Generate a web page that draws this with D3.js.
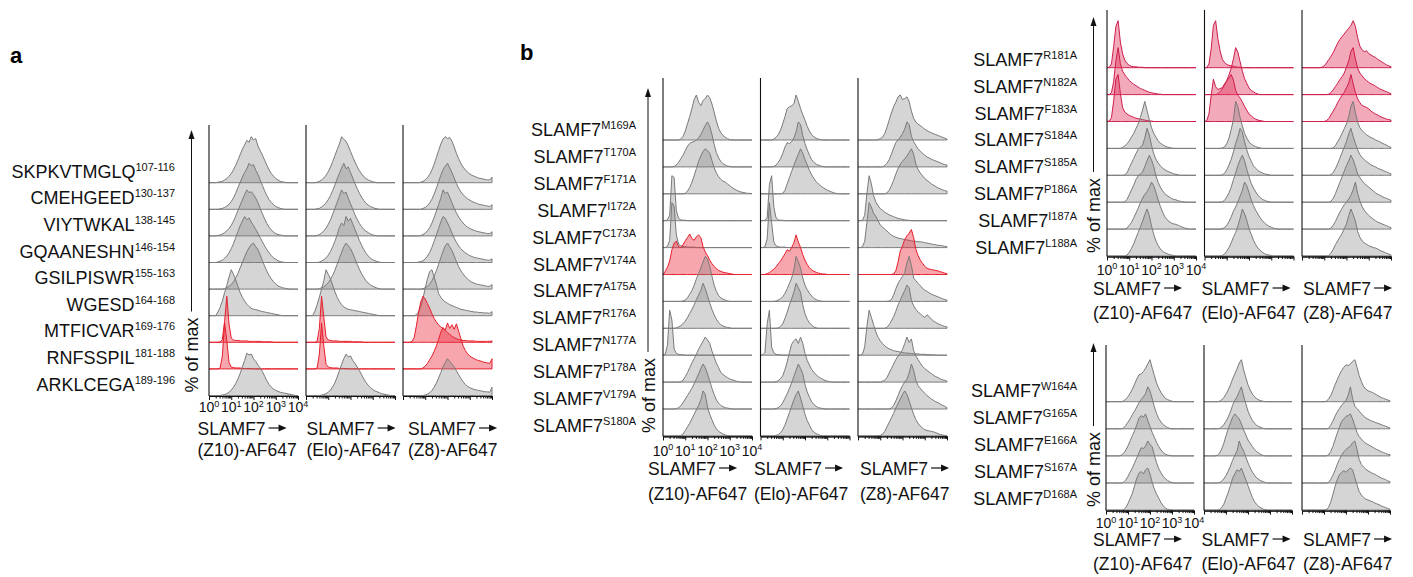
<!DOCTYPE html>
<html>
<head>
<meta charset="utf-8">
<title>SLAMF7 epitope mapping histograms</title>
<script src="https://d3js.org/d3.v7.min.js"></script>
<style>
  body { margin: 0; background: #fff; }
  svg { font-family: "Liberation Sans", Arial, sans-serif; }
</style>
</head>
<body>
<svg id="chart" width="1413" height="577"></svg>
<script>
// ---- data: histogram heights (% of max), one value per 0.1 decade from 10^0 to 10^4 (trailing zeros left out) ----
var colTitles = ["(Z10)-AF647", "(Elo)-AF647", "(Z8)-AF647"];
var tickExps = ["0", "1", "2", "3", "4"];

var rowsA = [["SKPKVTMGLQ","107-116"],["CMEHGEED","130-137"],["VIYTWKAL","138-145"],["GQAANESHN","146-154"],
  ["GSILPISWR","155-163"],["WGESD","164-168"],["MTFICVAR","169-176"],["RNFSSPIL","181-188"],["ARKLCEGA","189-196"]];
var rowsBL = ["M169A","T170A","F171A","I172A","C173A","V174A","A175A","R176A","N177A","P178A","V179A","S180A"];
var rowsBRT = ["R181A","N182A","F183A","S184A","S185A","P186A","I187A","L188A"];
var rowsBRB = ["W164A","G165A","E166A","S167A","D168A"];

var aZ10 = [
  [0,0,0,0,1,2,3,6,9,14,20,28,38,49,61,73,82,92,88,100,93,96,80,70,60,49,38,28,20,14,9,6,3,2,1],
  [0,0,0,0,0,1,2,4,7,11,17,25,35,47,58,70,80,88,100,95,97,85,76,64,52,40,30,21,15,10,6,4,2,1],
  [0,0,0,0,1,2,4,7,11,16,23,32,43,55,67,78,90,100,94,96,90,82,72,60,48,37,27,19,13,8,5,3,2,1],
  [0,0,0,0,1,3,5,9,14,21,30,41,54,67,80,90,100,93,97,88,80,72,63,54,45,36,28,21,15,10,7,4,2,1],
  [0,0,0,0,0,0,0,1,3,6,10,16,24,34,46,58,70,81,90,97,100,92,86,74,62,50,39,30,22,16,11,7,5,3,2,1],
  [0,0,0,0,8,18,32,50,66,84,100,90,78,64,50,40,32,25,20,16,14,13,12,10,9,8,7,6,5,4,3,2,1],
  [0,0,0,0,0,1,6,45,100,40,9,5,4,4,3,3,3,3,2,2,2,2,2,2,1,1,1,1,1],
  [0,0,0,0,0,2,28,100,62,14,4,3,2,2,2,1,1,1,1,1],
  [0,0,0,0,0,0,1,2,4,7,12,18,26,36,48,62,76,92,88,90,80,74,66,60,52,42,32,24,18,14,11,9,7,6,5,4,3,2,1]
];
var aElo = [
  [0,0,0,0,0,1,3,6,10,16,24,34,46,59,72,84,100,94,90,80,68,56,45,35,26,19,13,9,6,4,2,1],
  [0,0,0,0,0,1,2,5,9,14,21,30,41,53,66,78,90,100,88,92,80,68,56,45,35,26,19,13,9,6,4,2,1],
  [0,0,0,0,0,1,3,6,11,17,25,35,47,60,73,86,100,92,95,82,70,58,46,36,27,20,14,10,7,4,2,1],
  [0,0,0,0,0,0,1,3,6,10,16,24,34,46,60,76,86,80,100,90,96,84,72,60,48,37,28,20,14,9,6,4,2,1],
  [0,0,0,0,0,0,1,3,5,9,14,21,30,41,54,67,80,92,100,94,88,78,66,54,43,33,25,18,13,9,6,4,2,1],
  [0,0,0,0,10,24,40,58,76,100,90,80,66,52,40,31,24,19,16,14,13,12,11,10,9,8,7,6,5,4,3,2,1],
  [0,0,0,0,0,2,30,100,55,12,5,4,3,3,3,2,2,2,2,2,2,1,1,1,1,1],
  [0,0,0,0,0,2,32,100,50,10,4,3,2,2,2,1,1,1,1],
  [0,0,0,0,0,0,0,1,2,4,7,12,19,28,40,54,68,80,90,84,86,76,70,62,54,45,36,28,22,17,13,10,8,6,4,3,2,1]
];
var aZ8 = [
  [0,0,0,0,0,0,0,0,1,3,6,11,18,28,40,55,70,84,95,100,96,98,90,78,64,52,42,34,28,23,19,16,14,12,10,9,8,7,6,6,12],
  [0,0,0,0,0,0,0,0,0,2,4,8,14,22,33,46,60,74,86,94,100,90,80,68,56,46,38,32,27,23,20,17,15,13,11,10,9,8,7,6,10],
  [0,0,0,0,0,0,0,0,1,3,6,11,18,28,40,54,68,82,100,92,95,84,72,60,50,41,34,28,23,19,16,14,12,10,9,8,7,6,5,5,9],
  [0,0,0,0,0,0,0,1,2,4,8,14,22,33,46,60,74,88,100,96,86,76,64,53,44,36,30,25,21,18,15,13,11,10,9,8,7,6,5,5,8],
  [0,0,0,0,0,0,0,0,0,1,3,6,11,18,28,40,54,68,82,94,100,92,84,72,60,49,40,33,27,22,18,15,13,11,10,9,8,7,6,6,10],
  [0,0,0,0,0,0,2,8,20,38,60,80,96,100,84,68,48,40,34,30,27,24,22,20,18,16,14,13,12,11,10,9,8,8,7,7,6,6,6,5,9],
  [0,0,0,0,2,10,35,65,88,100,94,84,74,62,52,44,38,33,30,26,21,17,13,10,8,6,5,4,4,3,3,3,3,2,2,2,2,2,2,2,3],
  [0,0,0,0,0,0,0,0,0,2,6,12,20,28,38,50,64,80,90,84,100,88,96,86,98,82,66,50,40,33,28,25,22,20,18,17,15,14,13,12,22],
  [0,0,0,0,0,0,0,0,0,0,1,3,6,11,18,27,38,50,62,72,80,74,68,62,54,45,37,30,24,20,17,15,13,12,11,10,9,8,8,7,18]
];

var blZ10 = [
  [0,0,0,0,0,0,0,0,2,8,20,36,52,70,90,100,84,76,88,92,100,94,80,62,42,26,16,10,6,3,1],
  [0,0,0,0,0,1,4,10,18,26,36,46,52,55,56,60,64,72,82,92,100,90,72,50,32,20,12,7,4,2,1],
  [0,0,0,0,0,0,0,0,0,0,1,6,14,26,40,56,72,84,94,100,96,90,74,58,46,38,32,28,26,22,18,14,11,8,6,4,3,2,1,1],
  [0,0,2,12,100,96,22,5,2,1,1],
  [0,0,3,16,100,92,28,8,4,2,2,1,1,1,1],
  [0,7,16,30,55,70,74,62,60,66,75,82,90,80,76,84,88,82,62,50,42,32,24,18,13,9,7,5,4,3,2,1],
  [0,0,0,0,0,0,0,0,0,1,3,8,16,24,36,50,62,74,88,100,94,78,56,36,22,13,8,5,3,1],
  [0,0,0,0,0,0,1,3,6,10,16,24,33,42,52,64,74,84,100,88,72,56,42,30,20,13,8,5,3,2,1],
  [0,2,22,100,78,14,4,2,1,1],
  [0,0,0,0,0,0,0,0,1,4,12,21,32,43,52,62,73,82,91,100,94,86,69,55,42,32,21,17,13,10,7,5,4,2,1],
  [0,0,0,0,0,0,1,3,7,14,22,30,38,46,56,67,78,90,100,92,78,62,46,32,20,13,8,5,3,2,1],
  [0,0,0,0,0,0,0,0,1,4,12,20,28,38,48,58,68,80,100,92,64,48,36,24,16,10,7,4,2,1]
];
var blElo = [
  [0,0,0,0,0,0,2,6,12,22,36,52,70,74,76,80,100,86,70,56,44,30,20,12,7,4,2,1],
  [0,0,0,0,0,0,1,4,10,18,30,44,54,52,56,64,78,100,94,70,52,38,26,16,10,6,4,2,1],
  [0,0,0,0,0,0,0,0,0,0,1,8,22,36,50,63,76,88,100,90,76,64,52,42,34,27,22,18,14,11,8,6,4,2,1],
  [0,0,1,6,80,100,30,6,2,1,1],
  [0,0,2,20,100,55,12,4,2,1,1,1],
  [0,0,0,2,4,8,12,17,24,30,38,46,55,52,60,70,88,72,60,44,32,22,15,10,7,5,3,2,1,1],
  [0,0,0,0,0,0,0,1,3,6,10,18,28,40,52,70,100,88,74,52,36,26,18,12,7,4,2,1],
  [0,0,0,0,0,0,0,0,1,4,10,22,36,52,66,80,100,90,80,52,32,20,12,7,3,1],
  [0,1,6,70,100,18,5,2,1,1],
  [0,0,0,0,0,0,0,1,3,8,14,28,45,66,84,92,96,86,100,86,64,48,38,28,22,16,12,9,6,4,2,1],
  [0,0,0,0,0,0,0,1,3,7,14,24,34,46,58,72,86,100,90,78,54,38,26,16,10,6,3,2,1],
  [0,0,0,0,0,0,0,1,3,7,14,24,38,52,66,80,92,100,84,66,48,34,24,14,8,5,3,1]
];
var blZ8 = [
  [0,0,0,0,0,0,0,0,0,1,3,6,14,28,44,60,74,84,96,100,90,92,96,85,64,48,40,35,32,28,24,21,18,16,14,12,10,8,6,4,2],
  [0,0,0,0,0,0,0,0,0,0,0,0,3,8,16,28,42,54,60,66,74,84,100,94,68,56,48,40,35,30,26,22,20,17,15,13,11,9,7,5,4],
  [0,0,0,0,0,0,0,0,0,0,0,0,0,2,8,18,30,44,56,66,72,78,84,92,100,88,66,54,46,40,34,30,26,22,19,16,13,11,9,7,6],
  [0,0,1,12,60,100,82,56,42,33,27,23,19,16,13,11,9,7,5,4,3,2,1,1],
  [0,0,2,14,55,100,90,76,70,60,50,46,41,37,32,28,25,23,21,20,19,18,17,16,15,14,14,13,13,12,11,10,9,8,7,6,5,5,4,3,2],
  [0,0,0,0,0,0,0,0,0,0,0,0,0,0,0,0,2,8,28,52,64,78,86,92,100,82,56,42,32,25,18,14,12,11,10,9,8,6,5,3,2],
  [0,0,0,0,0,0,0,0,0,0,0,0,0,0,1,4,14,28,40,48,56,64,86,100,80,52,46,40,35,29,25,22,19,16,14,12,10,8,6,4,3],
  [0,0,0,0,0,0,0,0,0,0,0,0,0,2,8,16,26,38,52,62,74,84,96,90,62,50,42,36,32,28,24,30,26,20,16,13,10,8,6,4,3],
  [0,0,2,18,64,100,84,68,52,40,32,26,21,17,14,12,10,9,8,7,6,5,5,4,4,3,3,3,2,2,2,1,1,1,1],
  [0,0,0,0,0,0,0,0,0,0,0,2,4,10,20,30,40,50,58,64,72,86,100,88,96,70,58,50,42,35,30,26,22,19,15,12,10,7,5,4,2],
  [0,0,0,0,0,0,0,0,0,0,0,0,0,0,0,2,8,18,30,42,52,60,66,80,100,86,64,52,46,40,35,30,26,22,19,16,14,11,8,6,3],
  [0,0,0,0,0,0,0,0,0,0,1,4,10,20,30,40,50,62,72,82,92,100,92,78,62,48,36,28,22,17,14,12,11,10,9,7,5,3,2,1]
];

var brtZ10 = [
  [0,1,8,45,88,100,55,30,16,9,5,3,2,2,1,1,1],
  [0,0,4,28,72,100,66,50,42,36,30,26,22,19,16,13,11,9,7,5,4,3,2,1,1],
  [0,1,8,44,90,100,60,30,20,16,13,11,9,7,6,5,4,3,2,1,1],
  [0,0,0,0,0,0,0,2,5,10,16,24,32,42,52,66,82,100,80,62,44,32,24,16,11,8,5,3,2,1],
  [0,0,0,0,0,0,0,0,1,5,16,26,36,46,55,60,64,80,100,86,64,46,34,26,20,15,12,9,7,5,3,2,1],
  [0,0,0,0,0,0,0,0,1,6,16,26,36,48,56,60,64,76,88,100,90,76,56,42,32,24,18,14,11,8,6,5,3,2,1],
  [0,0,0,0,0,0,0,0,0,2,8,14,24,34,44,56,66,74,80,88,100,92,78,62,48,36,26,20,16,13,11,10,8,6,4,2,1],
  [0,0,0,0,0,0,0,0,0,2,8,16,26,38,50,62,74,88,100,86,64,46,32,22,15,10,7,5,3,2,1]
];
var brtElo = [
  [0,0,8,40,90,100,62,36,18,11,7,5,4,3,2,1,1],
  [0,0,0,0,0,0,2,6,12,20,30,42,56,76,100,90,70,50,34,24,14,9,6,3,1],
  [0,2,16,55,90,74,68,70,72,80,86,92,100,88,66,56,50,42,32,24,16,12,8,5,3,2,1],
  [0,0,0,0,0,0,0,0,1,3,10,22,40,62,100,88,66,48,32,22,14,9,6,4,2,1],
  [0,0,0,0,0,0,0,0,1,4,12,22,34,50,68,82,100,92,72,54,40,30,20,15,10,7,5,3,2,1],
  [0,0,0,0,0,0,0,0,1,4,11,20,32,48,62,78,90,100,88,70,54,40,30,22,15,10,6,4,2,1],
  [0,0,0,0,0,0,0,0,1,3,8,16,26,38,47,58,70,82,100,92,78,62,50,40,32,24,18,13,9,6,4,2,1],
  [0,0,0,0,0,0,0,0,1,4,10,18,28,40,50,64,80,100,90,76,58,46,34,24,17,12,8,5,3,2,1]
];
var brtZ8 = [
  [0,0,0,0,0,0,0,0,0,1,4,10,17,24,32,42,52,60,66,72,78,84,90,100,88,64,46,38,34,36,30,27,24,22,18,15,12,9,6,4,2],
  [0,0,0,0,0,0,0,0,0,0,0,0,1,4,10,17,24,32,38,46,58,72,92,100,76,56,46,40,34,30,26,23,21,18,15,12,10,8,6,4,2],
  [0,0,0,0,0,0,0,0,0,0,0,2,6,14,22,30,40,48,56,62,72,82,100,80,62,48,40,34,32,30,27,22,19,16,14,11,9,7,5,4,3],
  [0,0,0,0,0,0,0,0,0,0,0,0,0,0,1,6,14,22,32,42,52,68,90,100,76,56,44,38,33,29,26,23,21,18,16,14,11,9,7,4,2],
  [0,0,0,0,0,0,0,0,0,0,0,0,0,1,6,14,24,36,48,60,72,88,100,82,68,54,44,38,33,29,26,22,20,18,15,13,11,9,7,5,3],
  [0,0,0,0,0,0,0,0,0,0,0,0,0,2,8,18,30,42,54,66,78,88,100,90,76,60,52,46,40,36,32,28,24,20,17,15,12,10,8,6,4],
  [0,0,0,0,0,0,0,0,0,0,0,0,0,2,8,16,26,36,44,52,58,64,72,84,100,76,60,48,40,34,29,25,21,18,15,13,11,9,7,5,3],
  [0,0,0,0,0,0,0,0,0,0,0,0,1,6,14,24,32,40,48,58,68,86,100,88,74,52,40,32,28,25,22,20,18,17,15,12,10,8,6,4,2]
];

var brbZ10 = [
  [0,0,0,0,0,0,0,0,2,6,12,20,30,42,54,64,66,72,80,90,100,80,62,44,32,22,14,8,5,3,1],
  [0,0,0,0,0,0,0,0,2,8,16,24,34,42,52,62,70,76,84,100,90,72,52,36,24,16,10,6,3,1],
  [0,0,0,0,0,0,0,2,6,14,24,36,48,60,74,90,96,92,100,84,70,56,44,32,22,14,8,4,2,1],
  [0,0,0,0,0,0,0,0,2,7,16,26,36,48,60,72,84,82,88,100,92,86,66,48,34,24,16,10,6,3,1],
  [0,0,0,0,0,0,0,0,1,6,16,28,40,58,76,88,92,86,96,100,86,66,50,38,28,18,10,5,2,1]
];
var brbElo = [
  [0,0,0,0,0,0,0,1,4,10,18,28,40,54,66,78,92,100,76,58,40,28,18,12,7,4,2,1],
  [0,0,0,0,0,0,0,1,4,10,18,28,40,56,68,76,88,100,78,60,42,30,20,13,8,5,3,1],
  [0,0,0,0,0,0,1,6,16,30,48,64,78,92,100,94,88,76,62,50,38,30,22,15,10,6,3,1],
  [0,0,0,0,0,0,0,1,4,10,18,28,40,54,66,76,100,86,76,62,48,36,26,18,12,8,5,3,1],
  [0,0,0,0,0,0,0,1,6,14,28,42,58,76,86,96,92,100,86,72,58,44,30,20,13,8,5,2,1]
];
var brbZ8 = [
  [0,0,0,0,0,0,0,0,0,0,0,1,6,14,26,40,52,64,74,82,88,86,90,96,100,82,62,48,36,30,26,24,22,19,16,13,10,8,6,4,2],
  [0,0,0,0,0,0,0,0,0,0,0,0,1,8,18,30,40,48,56,62,68,80,100,72,54,48,42,36,30,26,23,20,18,16,14,12,10,8,6,4,2],
  [0,0,0,0,0,0,0,0,0,0,0,0,2,10,22,38,54,68,82,88,94,96,100,88,72,56,46,40,34,30,27,24,21,18,15,13,10,8,6,4,3],
  [0,0,0,0,0,0,0,0,0,0,0,0,1,8,18,30,44,56,66,74,80,84,88,96,100,80,56,44,38,33,29,26,23,21,18,15,12,10,8,5,3],
  [0,0,0,0,0,0,0,0,0,0,0,1,6,18,36,56,72,84,90,94,90,96,100,96,78,60,44,36,30,26,24,22,20,17,15,13,10,8,6,4,2]
];

// ---- layout ----
var svg = d3.select("#chart");
var N = 41;
function pad(v) { return v.concat(d3.range(Math.max(0, N - v.length)).map(function() { return 0; })).slice(0, N); }

var blocks = [
  { rows: rowsA, data: [aZ10, aElo, aZ8], red: [6, 7], redStroke: "#e61e2b", redFill: "#ec2b3b",
    x0: 209, colStep: 97, colW: 89, top: 125, base0: 182.7, rowStep: 26.6, ridgeH: 46,
    labelX: 175, labelDy: -5, yLabX: 191.5, arrowTop: 130,
    tickY: 412, titleX: [197.5, 306.5, 408], title1Y: 434.5, title2Y: 455.5 },
  { rows: rowsBL.map(function(s) { return ["SLAMF7", s]; }), data: [blZ10, blElo, blZ8], red: [5],
    redStroke: "#e61e2b", redFill: "#ec2b3b",
    x0: 663, colStep: 97.5, colW: 89, top: 78, base0: 140, rowStep: 26.9, ridgeH: 45,
    labelX: 636, labelDy: -4, yLabX: 648, arrowTop: 88,
    tickY: 455.5, titleX: [648, 754, 860], title1Y: 474.5, title2Y: 499.5 },
  { rows: rowsBRT.map(function(s) { return ["SLAMF7", s]; }), data: [brtZ10, brtElo, brtZ8], red: [0, 1, 2],
    redStroke: "#cf1c4c", redFill: "#e0345a",
    x0: 1107, colStep: 97.5, colW: 89, top: 10, base0: 67.7, rowStep: 26.9, ridgeH: 47,
    labelX: 1077, labelDy: -2, yLabX: 1093.5, arrowTop: 17,
    tickY: 274.5, titleX: [1093, 1201.5, 1303], title1Y: 294.5, title2Y: 318.5 },
  { rows: rowsBRB.map(function(s) { return ["SLAMF7", s]; }), data: [brbZ10, brbElo, brbZ8], red: [],
    redStroke: "#e61e2b", redFill: "#ec2b3b",
    x0: 1106, colStep: 98, colW: 88, top: 345, base0: 401.7, rowStep: 27.1, ridgeH: 42,
    labelX: 1077, labelDy: -5, yLabX: 1093.5, arrowTop: 343,
    tickY: 528, titleX: [1093, 1201.5, 1303], title1Y: 545.5, title2Y: 569.5 }
];

var majors = [1, 10, 100, 1000, 10000];
var minors = [];
[1, 10, 100, 1000].forEach(function(p) { for (var m = 2; m < 10; m++) minors.push(m * p); });

function drawBlock(b) {
  var g = svg.append("g");
  var last = b.base0 + (b.rows.length - 1) * b.rowStep;

  // row labels with superscripts
  b.rows.forEach(function(r, i) {
    var t = g.append("text")
      .attr("x", b.labelX)
      .attr("y", b.base0 + i * b.rowStep + b.labelDy)
      .attr("text-anchor", "end")
      .attr("font-size", 18)
      .attr("fill", "#111")
      .text(r[0]);
    t.append("tspan").attr("dy", -7).attr("font-size", 11).text(r[1]);
  });

  // "% of max" with upward arrow
  var yl = g.append("text")
    .attr("transform", "translate(" + (b.yLabX + 6.5) + "," + (last - 3) + ") rotate(-90)")
    .attr("font-size", 18)
    .attr("fill", "#111")
    .text("% of max");
  var len = yl.node().getComputedTextLength();
  g.append("line")
    .attr("x1", b.yLabX).attr("x2", b.yLabX)
    .attr("y1", last - 3 - len - 6).attr("y2", b.arrowTop + 6)
    .attr("stroke", "#111").attr("stroke-width", 1);
  g.append("path")
    .attr("d", "M" + b.yLabX + "," + b.arrowTop + "L" + (b.yLabX - 3) + "," + (b.arrowTop + 9) +
      "L" + (b.yLabX + 3) + "," + (b.arrowTop + 9) + "Z")
    .attr("fill", "#111");

  b.data.forEach(function(series, c) {
    var x0 = b.x0 + c * b.colStep;
    var x = d3.scaleLog().domain([1, 1e4]).range([x0, x0 + b.colW]);

    series.forEach(function(vals, r) {
      var base = b.base0 + r * b.rowStep;
      var y = d3.scaleLinear().domain([0, 100]).range([base, base - b.ridgeH]);
      var isRed = b.red.indexOf(r) >= 0;
      var area = d3.area()
        .x(function(d, i) { return x(Math.pow(10, i / 10)); })
        .y0(y(0))
        .y1(function(d) { return y(d); });
      g.append("path")
        .attr("d", area(pad(vals)))
        .attr("fill", isRed ? b.redFill : "#808080")
        .attr("fill-opacity", isRed ? 0.42 : 0.33)
        .attr("stroke", isRed ? b.redStroke : "#7a7a7a")
        .attr("stroke-width", 1)
        .attr("stroke-linejoin", "round");
    });

    // left axis line
    g.append("line")
      .attr("x1", x0).attr("x2", x0)
      .attr("y1", b.top).attr("y2", last + 0.5)
      .attr("stroke", "#111").attr("stroke-width", 1.1);

    // bottom log axis: major + minor ticks
    var axMaj = g.append("g").attr("transform", "translate(0," + (last + 0.5) + ")")
      .call(d3.axisBottom(x).tickValues(majors).tickSize(4).tickSizeOuter(0).tickFormat(""));
    var axMin = g.append("g").attr("transform", "translate(0," + (last + 0.5) + ")")
      .call(d3.axisBottom(x).tickValues(minors).tickSize(2.5).tickSizeOuter(0).tickFormat(""));
    [axMaj, axMin].forEach(function(ax) {
      ax.select(".domain").attr("stroke", "#111");
      ax.selectAll(".tick line").attr("stroke", "#111");
    });

    // tick labels under the first column only
    if (c === 0) {
      tickExps.forEach(function(e, k) {
        var t = g.append("text")
          .attr("x", x(majors[k]))
          .attr("y", b.tickY)
          .attr("text-anchor", "middle")
          .attr("font-size", 14)
          .attr("fill", "#111")
          .text("10");
        t.append("tspan").attr("dy", -5.5).attr("font-size", 9).text(e);
      });
    }

    // column titles
    var tx = b.titleX[c];
    var t1 = g.append("text")
      .attr("x", tx).attr("y", b.title1Y)
      .attr("font-size", 17.5).attr("fill", "#111")
      .text("SLAMF7");
    var w = t1.node().getComputedTextLength();
    var ax0 = tx + w + 3, ay = b.title1Y - 6.5;
    g.append("line")
      .attr("x1", ax0).attr("x2", ax0 + 12)
      .attr("y1", ay).attr("y2", ay)
      .attr("stroke", "#111").attr("stroke-width", 1.2);
    g.append("path")
      .attr("d", "M" + (ax0 + 18) + "," + ay + "L" + (ax0 + 10) + "," + (ay - 3.5) +
        "L" + (ax0 + 10) + "," + (ay + 3.5) + "Z")
      .attr("fill", "#111");
    g.append("text")
      .attr("x", tx).attr("y", b.title2Y)
      .attr("font-size", 17.5).attr("fill", "#111")
      .text(colTitles[c]);
  });
}

blocks.forEach(drawBlock);

// panel letters
svg.append("text").attr("x", 10).attr("y", 63).attr("font-size", 22).attr("font-weight", "bold").text("a");
svg.append("text").attr("x", 520).attr("y", 60).attr("font-size", 22).attr("font-weight", "bold").text("b");
</script>
</body>
</html>
